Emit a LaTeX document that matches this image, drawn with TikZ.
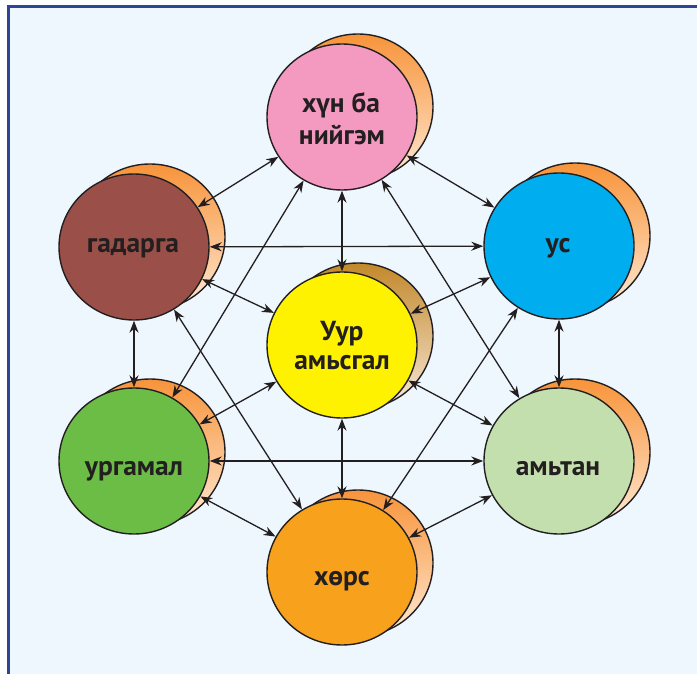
\documentclass[tikz,border=0pt]{standalone}
\usepackage{fontspec}
\setmainfont{PT Sans}
\usetikzlibrary{arrows.meta,shapes.geometric}
\definecolor{ink}{HTML}{231F20}
\definecolor{framec}{HTML}{2D4593}
\definecolor{bgc}{HTML}{EEF7FE}
\definecolor{pinkc}{HTML}{F49AC1}
\definecolor{brownc}{HTML}{9A5048}
\definecolor{bluec}{HTML}{00AEEF}
\definecolor{greenc}{HTML}{6CBD45}
\definecolor{lgreenc}{HTML}{C4DFAE}
\definecolor{orangec}{HTML}{F7A11C}
\definecolor{yellowc}{HTML}{FFF200}
\definecolor{shtop}{HTML}{F7943A}
\definecolor{shbot}{HTML}{FFE9D4}
\definecolor{cshtop}{HTML}{C3882A}
\definecolor{cshbot}{HTML}{F7EADA}
\tikzset{
  front/.style={ellipse, draw=ink, line width=1.4pt, minimum width=150pt, minimum height=146pt, inner sep=0pt},
  backdisc/.style={ellipse, draw=ink, line width=1.4pt, minimum width=150pt, minimum height=146pt, inner sep=0pt, top color=shtop, bottom color=shbot},
  cbackdisc/.style={backdisc, top color=cshtop, bottom color=cshbot},
  lbl/.style={font=\bfseries\fontsize{27.5pt}{29pt}\selectfont, text=ink, anchor=base, inner sep=0pt},
  link/.style={draw=ink, line width=1.3pt, {Stealth[length=12pt,width=9pt]}-{Stealth[length=12pt,width=9pt]}},
}
\begin{document}
\begin{tikzpicture}[x=1pt,y=-1pt]
\useasboundingbox (0,0) rectangle (697,674);
\fill[white] (0,0) rectangle (697,674);
\fill[bgc] (7,5) rectangle (697,674);
\draw[framec, line width=3pt] (8.5,674) -- (8.5,6.5) -- (697,6.5);
% shadows
\node[backdisc]  (stop) at (358,107) {};
\node[backdisc]  (sgad) at (150,237) {};
\node[backdisc]  (sus)  at (575,236) {};
\node[cbackdisc] (scen) at (358,336) {};
\node[backdisc]  (surg) at (150,452) {};
\node[backdisc]  (samt) at (575,452) {};
\node[backdisc]  (shor) at (358,563) {};
% front discs
\node[front, fill=pinkc]   (top) at (342,117) {};
\node[front, fill=brownc]  (gad) at (134,247) {};
\node[front, fill=bluec]   (us)  at (559,246) {};
\node[front, fill=yellowc] (cen) at (342,345) {};
\node[front, fill=greenc]  (urg) at (134,461) {};
\node[front, fill=lgreenc] (amt) at (559,461) {};
\node[front, fill=orangec] (hor) at (342,572) {};
% labels
\node[lbl] (ltop1) at (341,113) {хүн ба};
\node[lbl] (ltop2) at (342,145) {нийгэм};
\node[lbl] (lgad)  at (133,253) {гадарга};
\node[lbl] (lus)   at (558,253) {ус};
\node[lbl] (lcen1) at (342,340) {Уур};
\node[lbl] (lcen2) at (342,369) {амьсгал};
\node[lbl] (lurg)  at (134,475) {ургамал};
\node[lbl] (lamt)  at (558,475) {амьтан};
\node[lbl] (lhor)  at (342,585) {хөрс};
% connectors
\draw[link] (top) -- (gad);
\draw[link] (top) -- (us);
\draw[link] (top) -- (cen);
\draw[link] (top) -- (urg);
\draw[link] (top) -- (amt);
\draw[link] (gad) -- (us);
\draw[link] (gad) -- (cen);
\draw[link] (gad) -- (hor);
\draw[link] (gad) -- (urg);
\draw[link] (us) -- (cen);
\draw[link] (us) -- (hor);
\draw[link] (us) -- (amt);
\draw[link] (urg) -- (cen);
\draw[link] (urg) -- (amt);
\draw[link] (urg) -- (hor);
\draw[link] (amt) -- (cen);
\draw[link] (amt) -- (hor);
\draw[link] (cen) -- (hor);
\end{tikzpicture}
\end{document}
